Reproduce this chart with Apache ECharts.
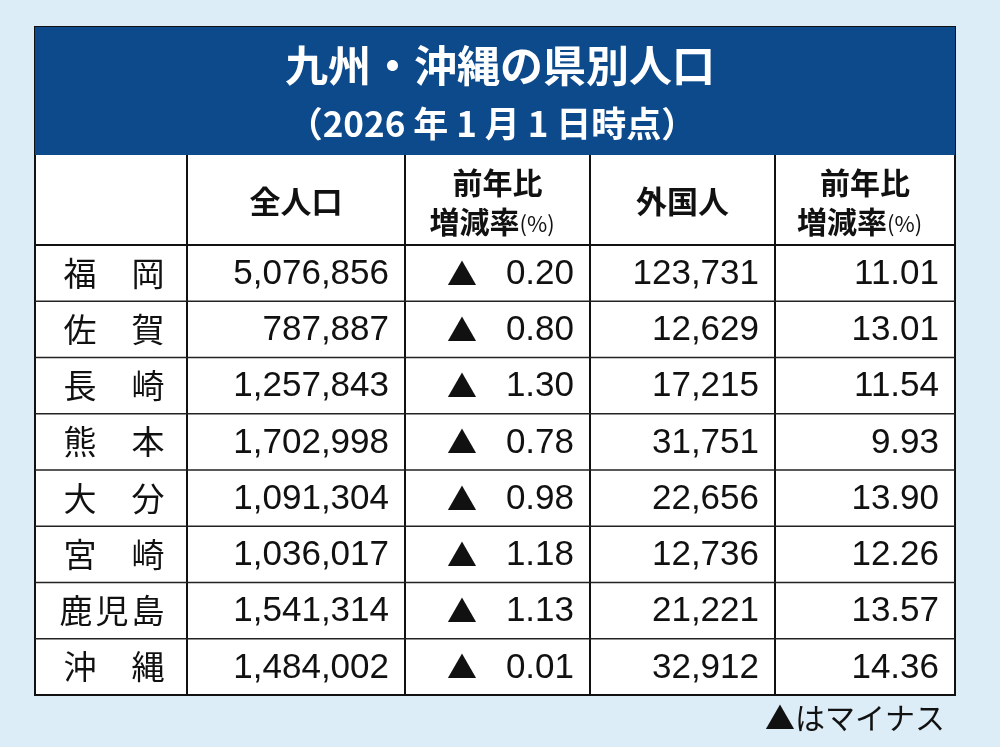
<!DOCTYPE html>
<html><head><meta charset="utf-8">
<script src="https://cdn.jsdelivr.net/npm/echarts@6/dist/echarts.min.js"></script>
<style>html,body{margin:0;padding:0;background:#dcedf8}#c{width:1000px;height:747px}</style>
</head><body><div id="c"></div>
<script>
const prefectures=["福岡","佐賀","長崎","熊本","大分","宮崎","鹿児島","沖縄"];
const totalPop=["5,076,856","787,887","1,257,843","1,702,998","1,091,304","1,036,017","1,541,314","1,484,002"];
const totalChange=["0.20","0.80","1.30","0.78","0.98","1.18","1.13","0.01"];
const foreignPop=["123,731","12,629","17,215","31,751","22,656","12,736","21,221","32,912"];
const foreignChange=["11.01","13.01","11.54","9.93","13.90","12.26","13.57","14.36"];
const title1="九州・沖縄の県別人口";
const title2="（2026 年 1 月 1 日時点）";
const headers=["全人口",["前年比","増減率"],"外国人",["前年比","増減率"]];
const note="▲はマイナス";

const L=35,R=955,TOP=27,HB=155,DT=245,BOT=695;
const colB=[0,152,370,555,740,920]; // relative to L
const FONT='"Noto Sans CJK JP", sans-serif';
const NUMF='"Liberation Sans", "Noto Sans CJK JP", sans-serif';
const chart=echarts.init(document.getElementById('c'));
const data=prefectures.map((p,i)=>[0,i]);
function renderItem(params,api){
  const i=api.value(1);
  const c=api.coord([0,i]);
  const h=api.size([0,1])[1];
  const x0=c[0], yc=c[1], yt=yc-h/2;
  const ch=[];
  const name=prefectures[i];
  const pos=name.length===2?[80,148]:[76,112,148];
  for(let k=0;k<name.length;k++) ch.push({type:'text',style:{text:name[k],x:pos[k],y:yc,align:'center',verticalAlign:'middle',font:'400 33px '+FONT,fill:'#111'}});
  const vals=[totalPop[i],totalChange[i],foreignPop[i],foreignChange[i]];
  for(let k=0;k<4;k++) ch.push({type:'text',style:{text:vals[k],x:x0+colB[k+2]-16,y:yc+1,align:'right',verticalAlign:'middle',font:'400 35px '+NUMF,fill:'#111'}});
  ch.push({type:'text',style:{text:'▲',x:x0+colB[2]+42,y:yc,align:'left',verticalAlign:'middle',font:'400 30px '+FONT,fill:'#111'}});
  if(i>0) ch.push({type:'line',shape:{x1:L,y1:yt,x2:R,y2:yt},style:{stroke:'#222',lineWidth:1.5}});
  return {type:'group',children:ch};
}
const g=[];
g.push({type:'rect',shape:{x:L,y:TOP,width:R-L,height:BOT-TOP},style:{fill:'#fff',stroke:'#111',lineWidth:2}});
g.push({type:'rect',shape:{x:L,y:TOP,width:R-L,height:HB-TOP},style:{fill:'#0d4a8c'}});
g.push({type:'text',style:{text:title1,x:500,y:66,align:'center',verticalAlign:'middle',font:'700 43px '+FONT,fill:'#fff'}});
g.push({type:'text',style:{text:title2,x:492,y:124,align:'center',verticalAlign:'middle',font:'700 35px '+FONT,fill:'#fff'}});
g.push({type:'line',shape:{x1:L,y1:DT,x2:R,y2:DT},style:{stroke:'#111',lineWidth:2}});
for(let k=1;k<5;k++) g.push({type:'line',shape:{x1:L+colB[k],y1:HB,x2:L+colB[k],y2:BOT},style:{stroke:'#111',lineWidth:2}});
headers.forEach((hd,k)=>{
  const cx=L+(colB[k+1]+colB[k+2])/2;
  if(typeof hd==='string') g.push({type:'text',style:{text:hd,x:cx,y:201,align:'center',verticalAlign:'middle',font:'700 31px '+FONT,fill:'#111'}});
  else{
    g.push({type:'text',style:{text:hd[0],x:cx,y:183,align:'center',verticalAlign:'middle',font:'700 30px '+FONT,fill:'#111'}});
    g.push({type:'text',style:{text:hd[1],x:cx+22,y:222,align:'right',verticalAlign:'middle',font:'700 30px '+FONT,fill:'#111'}});
    g.push({type:'text',style:{text:'(%)',x:cx+22,y:224,align:'left',verticalAlign:'middle',font:'400 22px '+FONT,fill:'#111'}});
  }
});
g.push({type:'text',style:{text:note,x:945,y:718,align:'right',verticalAlign:'middle',font:'400 30px '+FONT,fill:'#111'}});
chart.setOption({
  animation:false,
  grid:{left:L,right:1000-R,top:DT,bottom:747-BOT},
  xAxis:{type:'value',min:0,max:920,show:false},
  yAxis:{type:'category',data:prefectures,inverse:true,show:false},
  series:[{type:'custom',renderItem,data,z:10}],
  graphic:{elements:g}
});
</script></body></html>
